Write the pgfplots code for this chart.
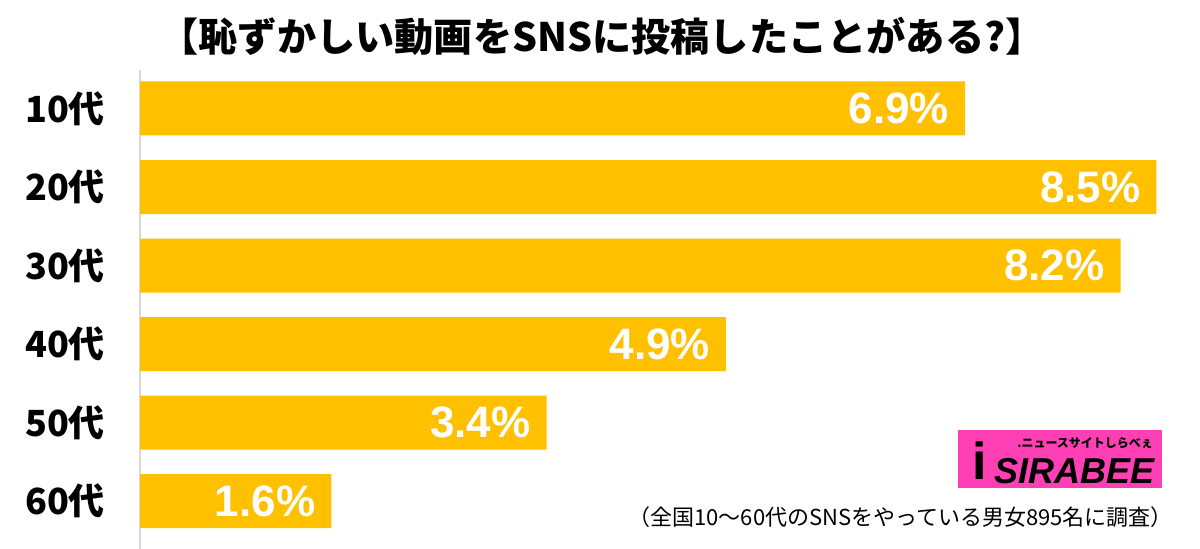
\documentclass[border=0pt]{standalone}
\usepackage{pgfplots}
\pgfplotsset{compat=1.18}
\usepackage{fontspec}
\setmainfont{Liberation Sans}
\newfontfamily\cjk{Noto Sans CJK JP}
\definecolor{barc}{RGB}{255,192,0}
\definecolor{logopink}{RGB}{255,64,180}
\begin{document}
\begin{tikzpicture}
\useasboundingbox (0,0) rectangle (600pt,274.5pt);
\begin{axis}[
 at={(70pt,0pt)}, anchor=south west,
 scale only axis, width=510pt, height=239.5pt,
 xbar, bar width=27pt,
 xmin=0, xmax=8.53,
 ymin=-0.49, ymax=5.61, y dir=reverse,
 axis x line=none, axis y line=left,
 y axis line style={-, draw=black!15, line width=1pt},
 ytick={0,...,5}, yticklabels={10代,20代,30代,40代,50代,60代},
 yticklabel style={font=\cjk\bfseries\fontsize{18}{20}\selectfont, xshift=-14pt},
 major tick length=0,
 point meta=x,
 nodes near coords={\pgfmathprintnumber[fixed,fixed zerofill,precision=1,assume math mode=true]{\pgfplotspointmeta}\%},
 every node near coord/.append style={anchor=east, xshift=-4.5pt, text=white, font=\bfseries\fontsize{22}{24}\selectfont},
 clip=false,
]
\addplot[fill=barc, draw=none] coordinates {(6.9,0) (8.5,1) (8.2,2) (4.9,3) (3.4,4) (1.6,5)};
\end{axis}
\node[font=\cjk\bfseries\fontsize{19.6}{21}\selectfont] at (301pt,256.5pt) {【恥ずかしい動画をSNSに投稿したことがある?】};
\node[anchor=east, font=\cjk\fontsize{11}{13}\selectfont] at (590pt,16pt) {（全国10〜60代のSNSをやっている男女895名に調査）};
\fill[logopink] (479pt,30.5pt) rectangle (581pt,59.5pt);
\node[anchor=east, font=\bfseries\itshape\fontsize{18}{18}\selectfont] at (581pt,39pt) {SIRABEE};
\node[anchor=east, font=\cjk\bfseries\fontsize{6}{6}\selectfont] at (580pt,53pt) {.ニュースサイトしらべぇ};
\node[font=\bfseries\fontsize{26}{26}\selectfont] at (490pt,44pt) {i};
\end{tikzpicture}
\end{document}
